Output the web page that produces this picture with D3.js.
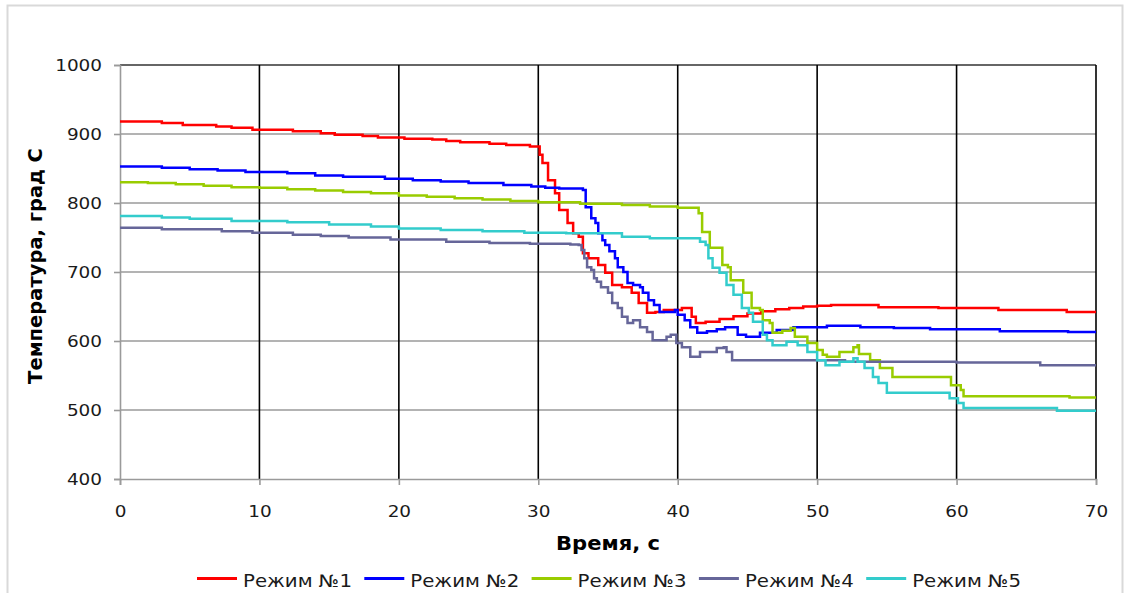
<!DOCTYPE html>
<html><head><meta charset="utf-8">
<script src="https://cdn.jsdelivr.net/npm/d3@7"></script>
<style>body{margin:0;background:#fff;}svg{display:block;}</style>
</head><body>
<svg id="c" width="1125" height="593"></svg>
<script>
const seriesNames = ["Режим №1","Режим №2","Режим №3","Режим №4","Режим №5"];
const seriesColors = ["#ff0000","#0000ff","#99cc00","#666699","#33cccc"];
const xTicks = [0,10,20,30,40,50,60,70];
const yTicks = [400,500,600,700,800,900,1000];
const xTitle = "Время, с";
const yTitle = "Температура, град С";

const mode1 = [[0,918],[3,916],[4.5,913],[6.9,911],[8,909],[9.5,906],[12.4,904],[14.4,901],[15.4,899],[17.4,897],[18.5,895],[20.4,893],[22.4,892],[23.4,890],[24.4,888],[26.5,886],[27.7,884],[29.4,882],[30.1,870],[30.3,858],[30.7,833],[31.2,814],[31.5,790],[32.1,771],[32.5,756],[32.9,751],[33.2,727],[33.6,720],[34.3,710],[34.8,699],[35.3,681],[36.0,678],[36.7,670],[37.2,655],[37.8,641],[38.4,642],[39.0,645],[40.3,648],[41.0,635],[41.3,626],[42.0,628],[43.0,632],[44.0,636],[45.0,640],[46.0,643],[47.0,646],[48.0,648],[49.0,650],[50.0,651],[51.0,652],[54.4,649],[58.7,648],[63.0,645],[67.9,642],[70,642]];
const mode2 = [[0,853],[3,851],[5,849],[7,847],[9,845],[12,843],[14,840],[16,838],[19,835],[21,833],[23,831],[25,829],[27.5,826],[29.5,824],[30.5,822],[31.5,821],[33.2,819],[33.4,794],[33.8,778],[34.1,771],[34.3,756],[34.6,746],[34.8,739],[35.1,730],[35.5,720],[35.7,707],[36.1,700],[36.4,684],[36.8,681],[37.3,678],[37.5,670],[37.9,659],[38.3,652],[38.7,642],[39.8,645],[40.0,638],[40.5,630],[40.9,620],[41.4,612],[42.1,614],[42.8,617],[43.4,620],[44.3,609],[44.9,606],[45.9,612],[47.1,616],[48.3,620],[50.7,622],[53.1,620],[55.5,619],[58.1,617],[63.1,614],[68.0,613],[70,613]];
const mode3 = [[0,830],[2,829],[4,827],[6,825],[8,823],[10,822],[12,820],[14,818],[16,816],[18,814],[20,811],[22,809],[24,807],[26,805],[28,803],[30,801],[33,799],[36,797],[38,795],[40,793],[41.5,785],[41.75,758],[42.3,735],[43.2,710],[43.6,707],[43.8,688],[44.7,670],[45.3,648],[45.9,645],[46.1,630],[46.6,626],[46.8,612],[47.5,615],[48.1,619],[48.4,606],[49.3,597],[50.0,587],[50.4,580],[50.7,577],[51.6,584],[52.6,591],[52.9,594],[53.0,581],[53.8,572],[54.5,561],[55.4,548],[59.6,536],[60.3,529],[60.5,520],[68.1,518],[70,518]];
const mode4 = [[0,764],[3,762],[7.3,759],[9.5,757],[12.4,754],[14.4,752],[16.4,750],[19.4,747],[23.4,744],[26.5,742],[29.4,741],[32.3,740],[32.9,739],[33.1,732],[33.3,720],[33.5,707],[33.8,703],[34.0,691],[34.2,686],[34.5,678],[35.0,670],[35.3,655],[35.7,648],[36.0,635],[36.4,626],[36.8,630],[37.3,620],[37.8,613],[38.2,601],[39.2,606],[39.5,609],[39.9,597],[40.3,591],[40.9,577],[41.6,584],[42.8,590],[43.3,591],[43.5,584],[43.9,572],[52.0,570],[60,569],[66,565],[70,565]];
const mode5 = [[0,781],[3,779],[5,777],[8,774],[12,772],[15,769],[18,766],[20,763],[23,761],[26,759],[29,757],[32,756],[36,751],[38,749],[41.6,744],[42.0,739],[42.2,720],[42.5,706],[43.0,699],[43.5,681],[44.0,667],[44.6,648],[45.1,641],[45.4,628],[46.1,609],[46.4,601],[46.8,594],[47.8,599],[48.6,594],[49.3,584],[50.0,572],[50.6,565],[51.6,570],[52.6,575],[52.9,570],[53.4,561],[54.0,548],[54.4,539],[55.0,525],[59.5,517],[60.1,510],[60.5,503],[67.2,499],[70,499]];
const allSeries = [mode1, mode2, mode3, mode4, mode5];

const svg = d3.select("#c");
const L = 120, R = 1096, T = 65, B = 479;
const x = d3.scaleLinear().domain([0,70]).range([L,R]);
const y = d3.scaleLinear().domain([400,1000]).range([B,T]);

function stretch(sel, k){
  sel.each(function(){
    const w = this.getComputedTextLength();
    d3.select(this).attr("textLength", w*k).attr("lengthAdjust","spacingAndGlyphs");
  });
}

// outer frame
svg.append("rect").attr("x",7.5).attr("y",5.5).attr("width",1115).attr("height",600)
  .attr("fill","none").attr("stroke","#d9d9d9").attr("stroke-width",2);

// horizontal gridlines
svg.append("g").selectAll("line").data(yTicks.filter(v=>v>400&&v<1000)).join("line")
  .attr("x1",L).attr("x2",R).attr("y1",d=>y(d)).attr("y2",d=>y(d))
  .attr("stroke","#9a9a9a").attr("stroke-width",1.6);
// top line
svg.append("line").attr("x1",L).attr("x2",R).attr("y1",y(1000)).attr("y2",y(1000))
  .attr("stroke","#333").attr("stroke-width",1.6);
// vertical gridlines
svg.append("g").selectAll("line").data(xTicks.filter(v=>v>0)).join("line")
  .attr("x1",d=>x(d)).attr("x2",d=>x(d)).attr("y1",T).attr("y2",B)
  .attr("stroke","#000").attr("stroke-width",1.6);

// axes
const xAxis = d3.axisBottom(x).tickValues(xTicks).tickSize(6).tickPadding(21).tickFormat(d3.format("d"));
const gx = svg.append("g").attr("transform",`translate(0,${B})`).call(xAxis);
const yAxis = d3.axisLeft(y).tickValues(yTicks).tickSize(6).tickPadding(12).tickFormat(d3.format("d"));
const gy = svg.append("g").attr("transform",`translate(${L},0)`).call(yAxis);
[gx,gy].forEach(g=>{
  g.select(".domain").attr("stroke","#9a9a9a").attr("stroke-width",1.6);
  g.selectAll(".tick line").attr("stroke","#9a9a9a").attr("stroke-width",1.6);
  g.selectAll(".tick text").attr("fill","#1a1a1a").style("font-family","'DejaVu Sans', Verdana, sans-serif").style("font-size","16px");
  stretch(g.selectAll(".tick text"), 1.15);
});
gx.selectAll(".tick text").attr("dy","0.71em");

// lines
const line = d3.line().x(d=>x(d[0])).y(d=>y(d[1])).curve(d3.curveStepAfter);
svg.append("g").selectAll("path").data(allSeries).join("path")
  .attr("d",line).attr("fill","none").attr("stroke",(d,i)=>seriesColors[i])
  .attr("stroke-width",2.5).attr("stroke-linejoin","miter");

// titles
const xt = svg.append("text").attr("x",608).attr("y",550).attr("text-anchor","middle")
  .style("font-family","'DejaVu Sans', sans-serif").style("font-weight","bold").style("font-size","19.5px")
  .attr("fill","#000").text(xTitle);
stretch(xt, 1.08);
svg.append("text").attr("transform",`translate(42,266) rotate(-90)`).attr("text-anchor","middle")
  .style("font-family","'DejaVu Sans', sans-serif").style("font-weight","bold").style("font-size","19.5px")
  .attr("fill","#000").text(yTitle);

// legend
const leg = svg.append("g");
seriesNames.forEach((n,i)=>{
  const x0 = 197 + i*167.3;
  leg.append("line").attr("x1",x0).attr("x2",x0+40).attr("y1",578.5).attr("y2",578.5)
    .attr("stroke",seriesColors[i]).attr("stroke-width",2.8);
  const t = leg.append("text").attr("x",x0+46).attr("y",587).attr("fill","#1a1a1a")
    .style("font-family","'DejaVu Sans', sans-serif").style("font-size","17px").text(n);
  t.attr("textLength",109).attr("lengthAdjust","spacingAndGlyphs");
});
</script>
</body></html>
